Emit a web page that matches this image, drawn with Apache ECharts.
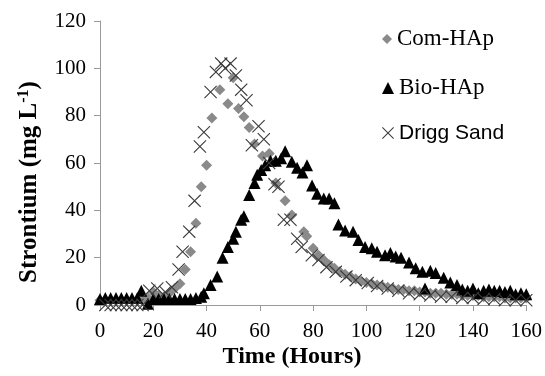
<!DOCTYPE html>
<html><head><meta charset="utf-8">
<script src="https://cdn.jsdelivr.net/npm/echarts@6/dist/echarts.min.js"></script>
<style>html,body{margin:0;padding:0;background:#fff}#c{width:545px;height:376px}</style>
</head><body><div id="c"></div>
<script>
// ---- data ----
const seriesNames = ['Com-HAp', 'Bio-HAp', 'Drigg Sand'];
const xTicks = [0, 20, 40, 60, 80, 100, 120, 140, 160];
const yTicks = [0, 20, 40, 60, 80, 100, 120];

const comT = [0,2,4,6,8,10,12,14,16,18,20,22,24,26,28,30,32,34,36,38,40,42,45,48,50,52,54,56,58,61,63.5,66,69.5,72,76.5,77.6,80,82,84,86,88,90,92,94,96,98,100,102,104,106,108,110,112,114,116,118,120,122,124,126,128,130,132,134,136,138,140,142,144,146,148,150,152,154,156,158,160];
const comV = [2,2,2,2,2,2,2,2,2,3,5.5,4,3.5,5,7,9,15,22.5,34.5,50,59,79,91,85,96,83,79.5,75,68,63,64,51.5,44,38,31,29,24,21,19,17,15.5,14,13,12,11,10,9.5,9,8.5,8,7.5,7,6.5,6.5,6,6,5.5,5.5,5,5,5,4.5,4.5,4.5,4,4,4,4,3.5,3.5,3.5,3.5,3,3,3,3,3];

const bioT = [0,2,4,6,8,10,12,14,15.5,18,20,22,24,26,28,30,32,34,36,38,39,41.5,44,46,48,50,51,53,54,56,58,59,60.5,62,64,66,68,69.5,72,74,76,77.7,79.6,81.5,84,86,88,89.5,92,95,97,99.5,102,104,107,109,111,113,116,118.5,121,122,124,126,129,131.5,134,136,138,140,142,144,146,148,150,152,154,156,158,160];
const bioV = [2.5,3,3,3,3,3,3,3,6,0.5,2.5,2.5,2.5,2.5,2.5,2.5,2.5,2.5,3,3.5,5,8.5,12,20,24.5,28,31,36,37.5,46.5,51.5,55,57,59,61,61,62,65,60.5,58,56,59,50.5,47,45,45,43,34,31.5,31,27.5,24.5,24,22.5,21,22,20.5,20,18,15.5,14,7,14.5,13.5,11.5,9.5,8.5,6.5,6,7,5,6,6.5,6,6,5.5,6,4.5,5,4.5];

const driggT = [2,4,6,8,10,12,14,16,18.5,21.5,24.5,27,29.5,31,33.5,35.5,37.5,39,41.5,43.5,45.5,47,49,51,53,55,57,59.5,61.5,63.5,65.5,67,69,71.5,74,75.7,79.5,82,85,88.5,92.5,96,100.5,104,108,112,116,120,124,128,132,136,140,144,148,152,156,160];
const driggV = [0,0,0,0,0,0,0,0,6,7,5.5,7.5,15,22.5,31,44,67,73,90,98.5,102,100,102,97,91,86.5,67.5,75.5,70,60,51,50,36,36,28,24.5,21,19,16,14,12,10.5,9.3,8,7,6,5,4.5,4,3.5,3.5,3,3,2.5,2.5,2,2,2];

const pairs = (t, v) => t.map((x, i) => [x, v[i]]);
const SERIF = 'Times New Roman';
const crossPath = 'path://M0,6L6,0L50,44L94,0L100,6L56,50L100,94L94,100L50,56L6,100L0,94L44,50Z';

const chart = echarts.init(document.getElementById('c'));
const axisCommon = {
  axisLine: {show: true, lineStyle: {color: '#9a9a9a', width: 1}},
  axisTick: {show: true, inside: false, length: 6, lineStyle: {color: '#9a9a9a'}},
  splitLine: {show: false}
};
const lbl = {color: '#000', fontFamily: SERIF, fontSize: 21};
const legendBase = {
  orient: 'vertical', left: 382, padding: 0, itemWidth: 12, itemHeight: 12,
  textStyle: {fontFamily: SERIF, fontSize: 23, color: '#000', lineHeight: 26}
};
chart.setOption({
  animation: false,
  backgroundColor: '#fff',
  grid: {left: 100, right: 16, top: 21, bottom: 71, containLabel: false},
  xAxis: Object.assign({type: 'value', min: xTicks[0], max: xTicks[xTicks.length-1], interval: 20}, axisCommon,
    {axisLabel: Object.assign({}, lbl, {margin: 16})}),
  yAxis: Object.assign({type: 'value', min: yTicks[0], max: yTicks[yTicks.length-1], interval: 20}, axisCommon,
    {axisLabel: Object.assign({}, lbl, {margin: 14})}),
  legend: [
    Object.assign({}, legendBase, {top: 26, data: [seriesNames[0]], itemWidth: 10, itemHeight: 10}),
    Object.assign({}, legendBase, {top: 75, data: [seriesNames[1]]}),
    Object.assign({}, legendBase, {top: 120, data: [seriesNames[2]],
      textStyle: {fontFamily: 'sans-serif', fontSize: 21, color: '#000', lineHeight: 26}})
  ],
  series: [
    {name: seriesNames[0], type: 'scatter', symbol: 'diamond', symbolSize: 11,
     itemStyle: {color: '#8a8a8a', opacity: 1}, data: pairs(comT, comV)},
    {name: seriesNames[1], type: 'scatter', symbol: 'triangle', symbolSize: 12,
     itemStyle: {color: '#000', opacity: 1}, data: pairs(bioT, bioV)},
    {name: seriesNames[2], type: 'scatter', symbol: crossPath, symbolSize: 13,
     itemStyle: {color: '#3a3a3a', opacity: 1}, data: pairs(driggT, driggV)}
  ],
  graphic: [
    {type: 'text', x: 292, y: 357,
     style: {text: 'Time (Hours)', fontFamily: SERIF, fontWeight: 'bold', fontSize: 24, fill: '#000', align: 'center', verticalAlign: 'middle'}},
    {type: 'text', x: 30, y: 182, rotation: Math.PI / 2,
     style: {text: '{a|Strontium (mg L}{b|-1}{a|)}', align: 'center', verticalAlign: 'middle', fill: '#000',
       rich: {a: {fontFamily: SERIF, fontWeight: 'bold', fontSize: 25, fill: '#000', lineHeight: 28},
              b: {fontFamily: SERIF, fontWeight: 'bold', fontSize: 16, fill: '#000', verticalAlign: 'top', lineHeight: 28}}}}
  ]
});
</script></body></html>
